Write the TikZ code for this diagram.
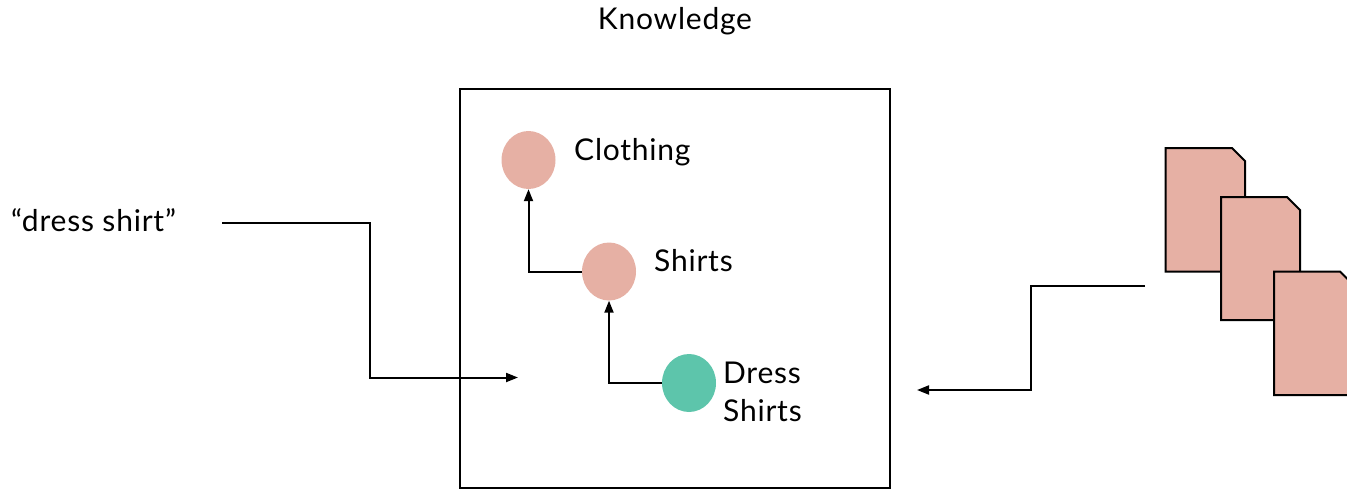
\documentclass[tikz,border=0pt]{standalone}
\usepackage{fontspec}
\setmainfont[LetterSpace=2.6]{Lato}
\usetikzlibrary{shapes.geometric,arrows.meta}
\definecolor{pinkfill}{HTML}{E6B0A4}
\definecolor{greenfill}{HTML}{5DC5AB}
\tikzset{
  x=1pt,y=-1pt,
  lab/.style={inner sep=0pt,anchor=base west,font=\fontsize{30}{38}\selectfont,align=left,text=black},
  dot/.style={ellipse,draw=none,inner sep=0pt,minimum width=54pt,minimum height=58pt},
  conn/.style={draw=black,line width=2pt,-{Triangle[length=12pt,width=9pt]}},
  docsheet/.style={fill=pinkfill,draw=black,line width=2pt,line join=miter},
  frame/.style={draw=black,line width=2pt,inner sep=0pt,minimum width=430pt,minimum height=399pt}
}
\begin{document}
\begin{tikzpicture}
\useasboundingbox (0,0) rectangle (1347,488);
\clip (0,0) rectangle (1347,488);
\node[frame] (box) at (675,288) {};
\node[lab,anchor=base] (title) at (675,29) {Knowledge};
\node[dot,fill=pinkfill] (clothing) at (528.5,160) {};
\node[dot,fill=pinkfill] (shirts) at (609,271.5) {};
\node[dot,fill=greenfill] (dress) at (689,383) {};
\node[lab] (lclothing) at (574,160) {Clothing};
\node[lab] (lshirts) at (654,271) {Shirts};
\node[lab] (ldress1) at (723,383) {Dress};
\node[lab] (ldress2) at (723,421) {Shirts};
\node[lab] (query) at (11,231) {“dress shirt”};
\draw[conn] (shirts.west) -| (clothing.south);
\draw[conn] (dress.west) -| (shirts.south);
\coordinate (qs) at (222,222.5);
\coordinate (qe) at (518,377.5);
\coordinate (ds) at (1145,286);
\coordinate (de) at (917,390);
\draw[conn] (qs) -- (370,222.5) -- (370,377.5) -- (qe);
\draw[conn] (ds) -- (1031,286) -- (1031,390) -- (de);
\draw[docsheet] (1165.5,148) -- (1232,148) -- (1245,161) -- (1245,271.5) -- (1165.5,271.5) -- cycle;
\draw[docsheet] (1221,197) -- (1287,197) -- (1300,210) -- (1300,320) -- (1221,320) -- cycle;
\draw[docsheet] (1274,271.5) -- (1340,271.5) -- (1353,284.5) -- (1353,395) -- (1274,395) -- cycle;
\end{tikzpicture}
\end{document}
